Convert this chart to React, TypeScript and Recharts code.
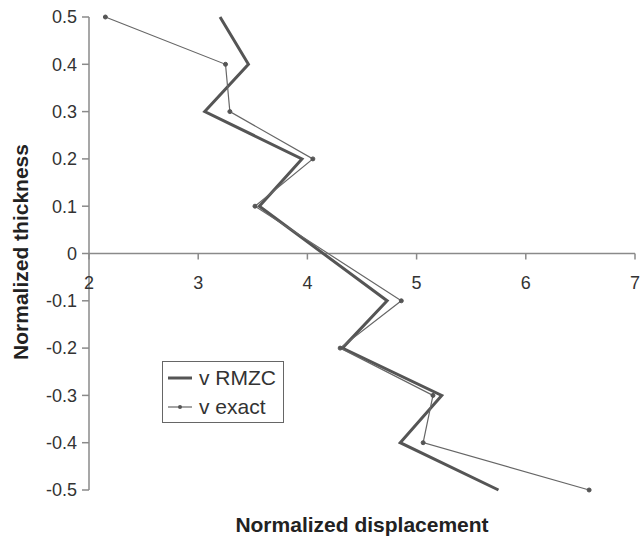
import { LineChart, Line, XAxis, YAxis, ReferenceLine, Legend, Label } from "recharts";

const thickness = [0.5, 0.4, 0.3, 0.2, 0.1, -0.1, -0.2, -0.3, -0.4, -0.5];
const vRmzc = [3.2, 3.46, 3.06, 3.95, 3.56, 4.73, 4.32, 5.23, 4.85, 5.75];
const vExact = [2.15, 3.25, 3.29, 4.05, 3.52, 4.86, 4.3, 5.15, 5.06, 6.58];
const xTicks = [2, 3, 4, 5, 6, 7];
const yTicks = [0.5, 0.4, 0.3, 0.2, 0.1, 0, -0.1, -0.2, -0.3, -0.4, -0.5];

const rmzcData = thickness.map((t, i) => ({ x: vRmzc[i], y: t }));
const exactData = thickness.map((t, i) => ({ x: vExact[i], y: t }));

const FONT = "'Liberation Sans', Arial, sans-serif";
const AXIS = "#8a8a8a";
const TOP = 17;
const PLOT_H = 473;
const ZERO_Y = TOP + PLOT_H / 2;

// x axis sits on y = 0, so ticks are drawn there instead of at the bottom
function XTick(props: any) {
  const { x, payload } = props;
  return (
    <g>
      <line x1={x} x2={x} y1={ZERO_Y} y2={ZERO_Y + 6} stroke={AXIS} strokeWidth={1.5} />
      <text x={x} y={ZERO_Y + 35} textAnchor="middle" fontSize={18} fill="#333" fontFamily={FONT}>
        {payload.value}
      </text>
    </g>
  );
}

function LegendBox() {
  return (
    <div
      style={{
        width: 120,
        height: 60,
        border: "1px solid #666",
        background: "#fff",
        fontFamily: FONT,
        fontSize: 21,
        color: "#333",
        boxSizing: "content-box",
      }}
    >
      <div style={{ display: "flex", alignItems: "center", height: 30, marginTop: 1 }}>
        <svg width={32} height={10} style={{ marginLeft: 4 }}>
          <line x1={1} x2={25} y1={5} y2={5} stroke="#555" strokeWidth={3} />
        </svg>
        <span>v RMZC</span>
      </div>
      <div style={{ display: "flex", alignItems: "center", height: 28 }}>
        <svg width={32} height={10} style={{ marginLeft: 4 }}>
          <line x1={1} x2={25} y1={5} y2={5} stroke="#666" strokeWidth={1.2} />
          <circle cx={13} cy={5} r={2} fill="#555" />
        </svg>
        <span>v exact</span>
      </div>
    </div>
  );
}

export default function App() {
  return (
    <div style={{ position: "absolute", left: 0, top: 0, background: "#fff" }}>
      <LineChart width={640} height={537} margin={{ top: TOP, right: 5, bottom: 37, left: 0 }}>
        <XAxis
          type="number"
          dataKey="x"
          domain={[2, 7]}
          ticks={xTicks}
          axisLine={false}
          tickLine={false}
          height={10}
          tick={<XTick />}
        >
          <Label
            content={() => (
              <text x={362} y={532} textAnchor="middle" fontSize={21} fontWeight="bold" fill="#222" fontFamily={FONT}>
                Normalized displacement
              </text>
            )}
          />
        </XAxis>
        <YAxis
          type="number"
          dataKey="y"
          domain={[-0.5, 0.5]}
          ticks={yTicks}
          width={89}
          axisLine={{ stroke: AXIS, strokeWidth: 1.5 }}
          tickLine={{ stroke: AXIS, strokeWidth: 1.5 }}
          tickSize={7}
          tickMargin={5}
          tick={{ fontSize: 18, fill: "#333", fontFamily: FONT }}
        >
          <Label
            content={() => (
              <text
                x={28}
                y={252}
                transform="rotate(-90 28 252)"
                textAnchor="middle"
                fontSize={21}
                fontWeight="bold"
                fill="#222"
                fontFamily={FONT}
              >
                Normalized thickness
              </text>
            )}
          />
        </YAxis>
        <ReferenceLine y={0} stroke={AXIS} strokeWidth={1.5} />
        <Legend
          layout="vertical"
          align="center"
          verticalAlign="middle"
          content={<LegendBox />}
          wrapperStyle={{ left: 162, top: 361, width: 122, height: 62 }}
        />
        <Line
          data={rmzcData}
          dataKey="y"
          name="v RMZC"
          stroke="#555"
          strokeWidth={3}
          dot={false}
          isAnimationActive={false}
        />
        <Line
          data={exactData}
          dataKey="y"
          name="v exact"
          stroke="#666"
          strokeWidth={1.2}
          dot={{ r: 2, fill: "#555", stroke: "#555", strokeWidth: 1 }}
          isAnimationActive={false}
        />
      </LineChart>
    </div>
  );
}
